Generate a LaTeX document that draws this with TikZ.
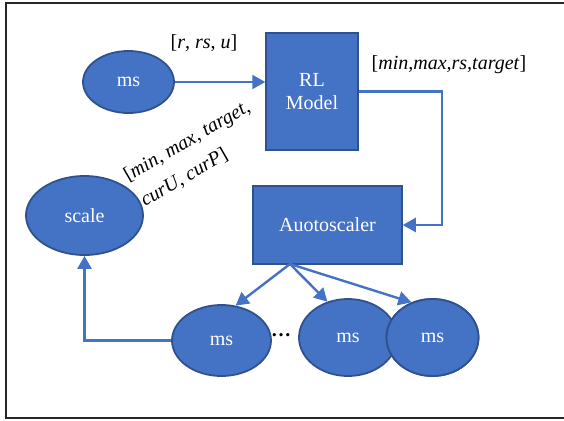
\documentclass[tikz,border=0pt]{standalone}
\usepackage{fontspec}
\setmainfont{Liberation Serif}
\usetikzlibrary{arrows.meta,shapes.geometric}
\definecolor{msblue}{HTML}{4472C4}
\definecolor{msedge}{HTML}{2F528F}
\begin{document}
\begin{tikzpicture}[x=1pt,y=-1pt,
  every node/.style={font=\fontsize{20}{24}\selectfont},
  svc/.style={ellipse,draw=msedge,line width=1.8pt,fill=msblue,text=white,inner sep=0pt},
  blk/.style={rectangle,draw=msedge,line width=1.5pt,fill=msblue,text=white,align=center,inner sep=0pt},
  flow/.style={draw=msblue,line width=2.4pt,-{Triangle[length=13pt,width=14pt]}},
  lbl/.style={text=black,inner sep=0pt}]
  \useasboundingbox (0,0) rectangle (564,420);
  % page frame, open at the right edge
  \draw[line width=2pt,black!85] (566,3) -- (6,3) -- (6,418) -- (566,418);

  % nodes
  \node[svc,minimum width=91pt,minimum height=62pt] (src) at (128.5,82) {ms};
  \node[blk,minimum width=92pt,minimum height=117pt] (rl) at (312,91.5) {RL\\[-1pt]Model};
  \node[blk,minimum width=149pt,minimum height=78pt] (auto) at (327.5,225) {Auotoscaler};
  \node[svc,minimum width=117pt,minimum height=79pt] (scale) at (84.5,215.5) {scale};
  \node[svc,minimum width=99pt,minimum height=71pt] (ms1) at (221.5,340.5) {ms};
  \node[svc,minimum width=98pt,minimum height=77pt] (ms2) at (348,337.5) {ms};
  \node[svc,minimum width=92pt,minimum height=77pt] (ms3) at (432.5,337.5) {ms};
  \node[lbl] (dots) at (281,335) {\textbf{…}};

  % labels
  \node[lbl] (inlbl) at (204,43) {[\textit{r}, \textit{rs}, \textit{u}]};
  \node[lbl] (outlbl) at (449,65) {[\textit{min,max,rs,target}]};
  \node[lbl,rotate=30,anchor=west,align=left,font=\fontsize{20}{30}\selectfont]
    (statelbl) at (133,190) {[\textit{min, max, target,}\\\hspace*{2pt}\textit{curU, curP}]};

  % connectors
  \coordinate (bend) at (442,0);
  \coordinate (fan) at (290,264);
  \draw[flow] (src.east) -- (src.east -| rl.west);
  \draw[flow] (rl.east) -| (bend |- auto.east) -- (auto.east);
  \draw[flow] (fan) -- (ms1.68);
  \draw[flow] (fan) -- (ms2.120);
  \draw[flow] (fan) -- (ms3.121);
  \draw[flow] (ms1.west) -| (scale.south);
  % the last service is drawn again so it lies over its neighbour
  \node[svc,minimum width=92pt,minimum height=77pt] (ms3top) at (432.5,337.5) {ms};
\end{tikzpicture}
\end{document}
